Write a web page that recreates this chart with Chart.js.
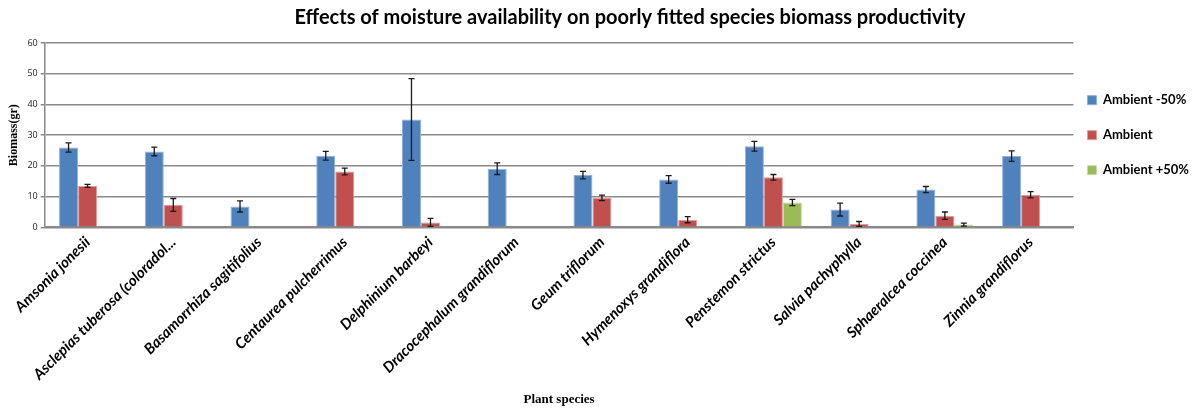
<!DOCTYPE html>
<html>
<head>
<meta charset="utf-8">
<script src="https://cdn.jsdelivr.net/npm/chart.js@4.4.1/dist/chart.umd.min.js"></script>
<style>
html,body{margin:0;padding:0;background:#fff;}
#wrap{width:1198px;height:409px;position:relative;}
</style>
</head>
<body>
<div id="wrap"><canvas id="c"></canvas></div>
<script>
const chartTitle = 'Effects of moisture availability on poorly fitted species biomass productivity';
const yAxisTitle = 'Biomass(gr)';
const xAxisTitle = 'Plant species';
const categories = ['Amsonia jonesii','Asclepias tuberosa (coloradol...','Basamorrhiza sagitifolius','Centaurea pulcherrimus','Delphinium barbeyi','Dracocephalum grandiflorum','Geum triflorum','Hymenoxys grandiflora','Penstemon strictus','Salvia pachyphylla','Sphaeralcea coccinea','Zinnia grandiflorus'];
const seriesNames = ['Ambient -50%','Ambient','Ambient +50%'];
const ambientMinus50 = [26.0, 24.7, 6.8, 23.3, 35.1, 19.1, 17.0, 15.6, 26.4, 5.8, 12.3, 23.2];
const ambientMinus50Err = [1.5, 1.4, 1.8, 1.4, 13.3, 1.9, 1.2, 1.25, 1.6, 2.1, 1.0, 1.7];
const ambient = [13.5, 7.3, null, 18.2, 1.6, null, 9.6, 2.5, 16.3, 1.1, 3.8, 10.6];
const ambientErr = [0.5, 2.1, null, 1.1, 1.3, null, 0.9, 1.0, 0.9, 0.8, 1.2, 1.0];
const ambientPlus50 = [null, null, null, null, null, null, null, null, 8.1, null, 0.9, null];
const ambientPlus50Err = [null, null, null, null, null, null, null, null, 1.0, null, 0.5, null];
const yTicks = [0, 10, 20, 30, 40, 50, 60];

const errorSets = [ambientMinus50Err, ambientErr, ambientPlus50Err];

const errorBarPlugin = {
  id: 'errorBars',
  afterDatasetsDraw(chart) {
    const ctx = chart.ctx;
    const yScale = chart.scales.y;
    ctx.save();
    ctx.strokeStyle = '#1a1a1a';
    ctx.lineWidth = 1.3;
    chart.data.datasets.forEach((ds, di) => {
      const meta = chart.getDatasetMeta(di);
      const errs = errorSets[di];
      meta.data.forEach((bar, i) => {
        const v = ds.data[i];
        const e = errs[i];
        if (v == null || e == null) return;
        const x = bar.x;
        const yt = yScale.getPixelForValue(v + e);
        const yb = yScale.getPixelForValue(Math.max(0, v - e));
        ctx.beginPath();
        ctx.moveTo(x, yt); ctx.lineTo(x, yb);
        ctx.moveTo(x - 3, yt); ctx.lineTo(x + 3, yt);
        ctx.moveTo(x - 3, yb); ctx.lineTo(x + 3, yb);
        ctx.stroke();
      });
    });
    ctx.restore();
  }
};

const layoutTweakPlugin = {
  id: 'layoutTweak',
  afterLayout(chart) {
    const t = chart.titleBlock;
    if (t) { t.left += 23; t.right += 23; }
    const lg = chart.legend;
    if (lg) { lg.left -= 8; lg.right -= 8; }
  }
};

new Chart(document.getElementById('c'), {
  type: 'bar',
  data: {
    labels: categories,
    datasets: [
      {label: seriesNames[0], data: ambientMinus50, backgroundColor: '#4F81BD', borderColor: '#8fb0dc', borderWidth: 1},
      {label: seriesNames[1], data: ambient, backgroundColor: '#C0504D', borderColor: '#e39a98', borderWidth: 1},
      {label: seriesNames[2], data: ambientPlus50, backgroundColor: '#9BBB59', borderColor: '#c9dca2', borderWidth: 1}
    ]
  },
  options: {
    responsive: true,
    maintainAspectRatio: false,
    animation: false,
    layout: {padding: {left: 7, right: -9, top: 0, bottom: 2}},
    datasets: {bar: {categoryPercentage: 0.665, barPercentage: 1.0}},
    plugins: {
      title: {
        display: true, text: chartTitle, color: '#000',
        font: {family: 'Lato', size: 20, weight: 'bold'},
        padding: {top: 6, bottom: 13}
      },
      legend: {
        position: 'right', fullSize: false,
        labels: {
          boxWidth: 9, boxHeight: 9, padding: 22, color: '#000',
          font: {family: 'Lato', size: 13, weight: 'bold'}
        }
      },
      tooltip: {enabled: false}
    },
    scales: {
      x: {
        grid: {display: false, drawTicks: false},
        border: {display: true, color: '#888', width: 2},
        ticks: {
          autoSkip: false, maxRotation: 45, minRotation: 45, color: '#000', padding: 6,
          font: {family: 'Lato', size: 15, weight: 'bold', style: 'italic'}
        },
        title: {
          display: true, text: xAxisTitle, color: '#000',
          font: {family: 'Liberation Serif', size: 13, weight: 'bold'},
          padding: {top: 2, bottom: 0}
        }
      },
      y: {
        min: 0, max: 60,
        afterBuildTicks(scale) { scale.ticks = yTicks.map(v => ({value: v})); },
        grid: {color: '#8a8a8a', lineWidth: 1.5, tickLength: 4, drawTicks: true},
        border: {display: true, color: '#8a8a8a', width: 1.5},
        ticks: {color: '#222', padding: 3, font: {family: 'Open Sans', size: 9}},
        title: {
          display: true, text: yAxisTitle, color: '#000',
          font: {family: 'Liberation Serif', size: 12, weight: 'bold'},
          padding: {top: 0, bottom: 3}
        }
      }
    }
  },
  plugins: [errorBarPlugin, layoutTweakPlugin]
});
</script>
</body>
</html>
